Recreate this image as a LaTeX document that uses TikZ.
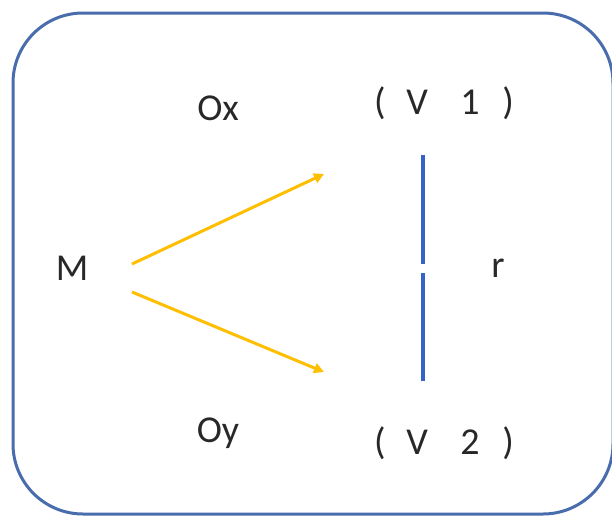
\documentclass[tikz,border=0pt]{standalone}
\usepackage{fontspec}
\setmainfont{Carlito}
\usetikzlibrary{arrows.meta}
\definecolor{frameblue}{RGB}{72,108,172}
\definecolor{linkamber}{RGB}{255,190,0}
\definecolor{barblue}{RGB}{50,98,202}
\definecolor{textgray}{RGB}{40,40,40}

\begin{document}
\begin{tikzpicture}[x=0.5pt, y=-0.5pt,
    label/.style={text=textgray, font=\fontsize{19}{22}\selectfont, inner sep=0pt},
    arrow/.style={-{Triangle[length=5pt, width=5pt]}, line width=1.5pt, color=linkamber},
    bar/.style={line width=2pt, color=barblue}
]
\useasboundingbox (0,0) rectangle (612,516);
\draw[frameblue, line width=1.5pt, rounded corners=35pt] (13,13) rectangle (613,514);
\node[label] (m) at (72,268) {M};
\node[label] (ox) at (218,108) {Ox};
\node[label] (oy) at (218,433) {Oy};
\node[label] (v1) at (444,103) {(\hspace{0.55em}V\hspace{0.85em}1\hspace{0.6em})};
\node[label] (v2) at (444,443) {(\hspace{0.55em}V\hspace{0.85em}2\hspace{0.6em})};
\node[label] (r) at (498,268) {r};
\coordinate (m-up) at (132,264);
\coordinate (m-down) at (132,292);
\coordinate (ox-tip) at (324,174);
\coordinate (oy-tip) at (324,372);
\coordinate (bar-a) at (423,155);
\coordinate (bar-b) at (423,264);
\coordinate (bar-c) at (423,273);
\coordinate (bar-d) at (423,381);
\draw[arrow] (m-up) -- (ox-tip);
\draw[arrow] (m-down) -- (oy-tip);
\draw[bar] (bar-a) -- (bar-b);
\draw[bar] (bar-c) -- (bar-d);
\end{tikzpicture}
\end{document}
